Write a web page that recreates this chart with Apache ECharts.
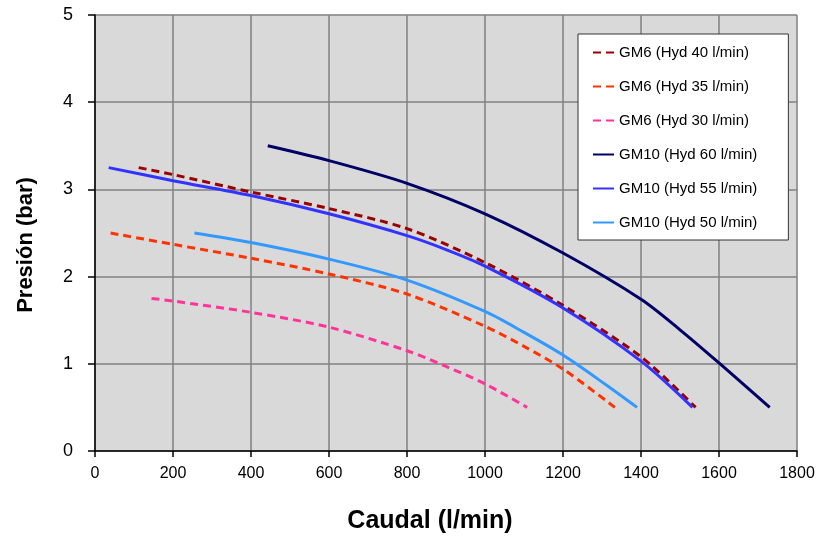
<!DOCTYPE html>
<html>
<head>
<meta charset="utf-8">
<script src="https://cdn.jsdelivr.net/npm/echarts@6/dist/echarts.min.js"></script>
<style>html,body{margin:0;padding:0;background:#fff}#c{width:832px;height:539px}</style>
</head>
<body>
<div id="c"></div>
<script>
// Data: [Caudal (l/min), Presión (bar)]
var gm6_40 = [[112,3.25],[200,3.17],[400,2.97],[600,2.78],[800,2.55],[1000,2.16],[1200,1.67],[1400,1.08],[1540,0.50]];
var gm6_35 = [[40,2.50],[200,2.37],[400,2.21],[600,2.03],[800,1.80],[1000,1.43],[1100,1.20],[1200,0.94],[1333,0.50]];
var gm6_30 = [[145,1.75],[200,1.72],[400,1.59],[600,1.42],[800,1.15],[900,0.97],[1000,0.77],[1108,0.50]];
var gm10_60 = [[443,3.50],[600,3.33],[800,3.07],[1000,2.72],[1200,2.27],[1400,1.74],[1500,1.39],[1600,1.01],[1730,0.50]];
var gm10_55 = [[35,3.25],[200,3.10],[400,2.93],[600,2.72],[800,2.47],[900,2.31],[1000,2.12],[1200,1.64],[1400,1.03],[1532,0.50]];
var gm10_50 = [[255,2.50],[400,2.39],[600,2.20],[800,1.96],[1000,1.60],[1100,1.36],[1200,1.10],[1310,0.76],[1390,0.50]];

var seriesNames = ['GM6 (Hyd 40 l/min)','GM6 (Hyd 35 l/min)','GM6 (Hyd 30 l/min)','GM10 (Hyd 60 l/min)','GM10 (Hyd 55 l/min)','GM10 (Hyd 50 l/min)'];
var seriesData = [gm6_40, gm6_35, gm6_30, gm10_60, gm10_55, gm10_50];
var seriesColors = ['#990000','#ff3300','#ff3399','#000066','#3333ff','#3399ff'];
var seriesDashed = [true, true, true, false, false, false];

var xLabel = 'Caudal (l/min)';
var yLabel = 'Presión (bar)';

var FONT = 'Arial, "Liberation Sans", sans-serif';

var chart = echarts.init(document.getElementById('c'), null, {renderer:'canvas'});
var series = seriesNames.map(function(n,i){
  return {
    name: n, type: 'line', data: seriesData[i], smooth: 0.3,
    showSymbol: false, symbol: 'none',
    lineStyle: {color: seriesColors[i], width: 3, type: seriesDashed[i] ? [8,5] : 'solid', cap: 'butt'},
    itemStyle: {color: seriesColors[i]},
    z: 2 + i
  };
});

chart.setOption({
  animation: false,
  backgroundColor: '#ffffff',
  grid: {left: 95, right: 35, top: 15, bottom: 87, show: true, backgroundColor: '#d9d9d9', borderWidth: 0},
  legend: {
    orient: 'vertical', left: 578, top: 34,
    padding: [11, 31, 10, 14],
    itemWidth: 21, itemHeight: 15, itemGap: 19,
    backgroundColor: '#ffffff', borderColor: '#333333', borderWidth: 1,
    itemStyle: {opacity: 0},
    textStyle: {fontFamily: FONT, fontSize: 15, color: '#000'},
    data: seriesNames
  },
  xAxis: {
    type: 'value', min: 0, max: 1800, interval: 200,
    name: xLabel, nameLocation: 'middle', nameGap: 58,
    nameTextStyle: {fontFamily: FONT, fontSize: 25, fontWeight: 'bold', color: '#000', padding: [0, 32, 0, 0]},
    axisLine: {show: true, onZero: false, lineStyle: {color: '#000', width: 1.5}},
    axisTick: {show: true, length: 6, lineStyle: {color: '#000', width: 1.5}},
    axisLabel: {fontFamily: FONT, fontSize: 16, color: '#000', margin: 15, formatter: function(v){return String(v);}},
    splitLine: {show: true, lineStyle: {color: '#808080', width: 1.5}}
  },
  yAxis: {
    type: 'value', min: 0, max: 5, interval: 1,
    name: yLabel, nameLocation: 'middle', nameGap: 58,
    nameTextStyle: {fontFamily: FONT, fontSize: 22, fontWeight: 'bold', color: '#000', padding: [0, 24, 0, 0]},
    axisLine: {show: true, onZero: false, lineStyle: {color: '#000', width: 1.5}},
    axisTick: {show: true, length: 7, lineStyle: {color: '#000', width: 1.5}},
    axisLabel: {fontFamily: FONT, fontSize: 18, color: '#000', margin: 22, formatter: function(v){return String(v);}},
    splitLine: {show: true, lineStyle: {color: '#808080', width: 1.5}}
  },
  series: series
});
</script>
</body>
</html>
